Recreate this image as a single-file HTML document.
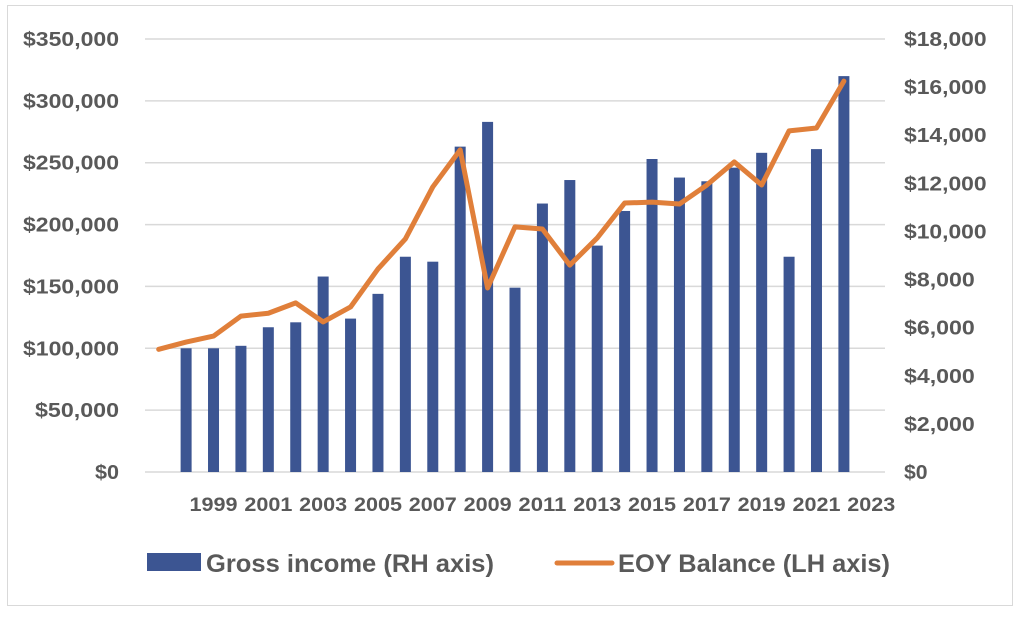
<!DOCTYPE html>
<html><head><meta charset="utf-8"><style>
html,body{margin:0;padding:0;background:#fff;width:1024px;height:621px;overflow:hidden}
svg{display:block}
text{font-family:"Liberation Sans",sans-serif;font-weight:bold;fill:#595959}
</style></head><body>
<svg id="chart" width="1024" height="621" viewBox="0 0 1024 621">
<rect x="7.5" y="5.5" width="1005" height="600" fill="#fff" stroke="#d9d9d9"/>
<g id="grid"></g><g id="bars"></g><g id="line"></g><g id="axes"></g>
<g>
<rect x="147" y="553" width="54" height="18" fill="#3c5592"/>
<text x="206" y="572" font-size="25" textLength="288" lengthAdjust="spacingAndGlyphs">Gross income (RH axis)</text>
<line x1="557" y1="563" x2="612" y2="563" stroke="#e07f3a" stroke-width="5" stroke-linecap="round"/>
<text x="618" y="572" font-size="25" textLength="272" lengthAdjust="spacingAndGlyphs">EOY Balance (LH axis)</text>
</g>
</svg>
<script>
const years=[1997,1998,1999,2000,2001,2002,2003,2004,2005,2006,2007,2008,2009,2010,2011,2012,2013,2014,2015,2016,2017,2018,2019,2020,2021,2022,2023];
const grossIncome=[null,100000,100000,102000,117000,121000,158000,124000,144000,174000,170000,263000,283000,149000,217000,236000,183000,211000,253000,238000,235000,246000,258000,174000,261000,320000,null];
const eoyBalance=[5100,5400,5650,6480,6600,7030,6240,6860,8440,9690,11850,13390,7650,10190,10100,8600,9730,11180,11220,11140,11930,12890,11930,14180,14300,16250,null];
const leftTicks=[0,50000,100000,150000,200000,250000,300000,350000];
const rightTicks=[0,2000,4000,6000,8000,10000,12000,14000,16000,18000];
const xLabels=[1999,2001,2003,2005,2007,2009,2011,2013,2015,2017,2019,2021,2023];
const NS="http://www.w3.org/2000/svg";
const X0=145,X1=885,Y0=472,Y1=39;
const step=(X1-X0)/years.length;
const xPos=i=>X0+step*(i+0.5);
const yL=v=>Y0-(v/350000)*(Y0-Y1);
const yR=v=>Y0-(v/18000)*(Y0-Y1);
const fmt=v=>"$"+v.toLocaleString("en-US");
function mk(tag,attrs,parent){const e=document.createElementNS(NS,tag);for(const k in attrs)e.setAttribute(k,attrs[k]);parent.appendChild(e);return e;}
const grid=document.getElementById("grid"),bars=document.getElementById("bars"),line=document.getElementById("line"),axes=document.getElementById("axes");
leftTicks.forEach(v=>{
 const g=mk("line",{x1:X0,x2:X1,y1:yL(v),y2:yL(v),stroke:"#d9d9d9","stroke-width":1.5},grid);
 
 
 const s=fmt(v);
 const t=mk("text",{x:119,y:yL(v)+7,"font-size":20,"text-anchor":"end",textLength:s.length*12,lengthAdjust:"spacingAndGlyphs"},axes);
 t.textContent=s;
 
 
});
rightTicks.forEach(v=>{
 const s=fmt(v);
 const t=mk("text",{x:904,y:yR(v)+7,"font-size":20,textLength:s.length*11.8,lengthAdjust:"spacingAndGlyphs"},axes);
 t.textContent=s;
 
 
});
xLabels.forEach(y=>{
 const i=years.indexOf(y);
 const t=mk("text",{x:xPos(i),y:511,"font-size":19,"text-anchor":"middle",textLength:48,lengthAdjust:"spacingAndGlyphs"},axes);
 t.textContent=y;
 
 
});
grossIncome.forEach((v,i)=>{
 if(v==null)return;
 const b=mk("rect",{x:xPos(i)-5.5,y:yL(v),width:11,height:Y0-yL(v),fill:"#3c5592"},bars);
 
 
});
const pts=[];eoyBalance.forEach((v,i)=>{if(v!=null)pts.push(xPos(i)+","+yR(v));});
const pl=mk("polyline",{points:pts.join(" "),fill:"none",stroke:"#e07f3a","stroke-width":5,"stroke-linejoin":"round","stroke-linecap":"round"},line);


</script>
</body></html>
